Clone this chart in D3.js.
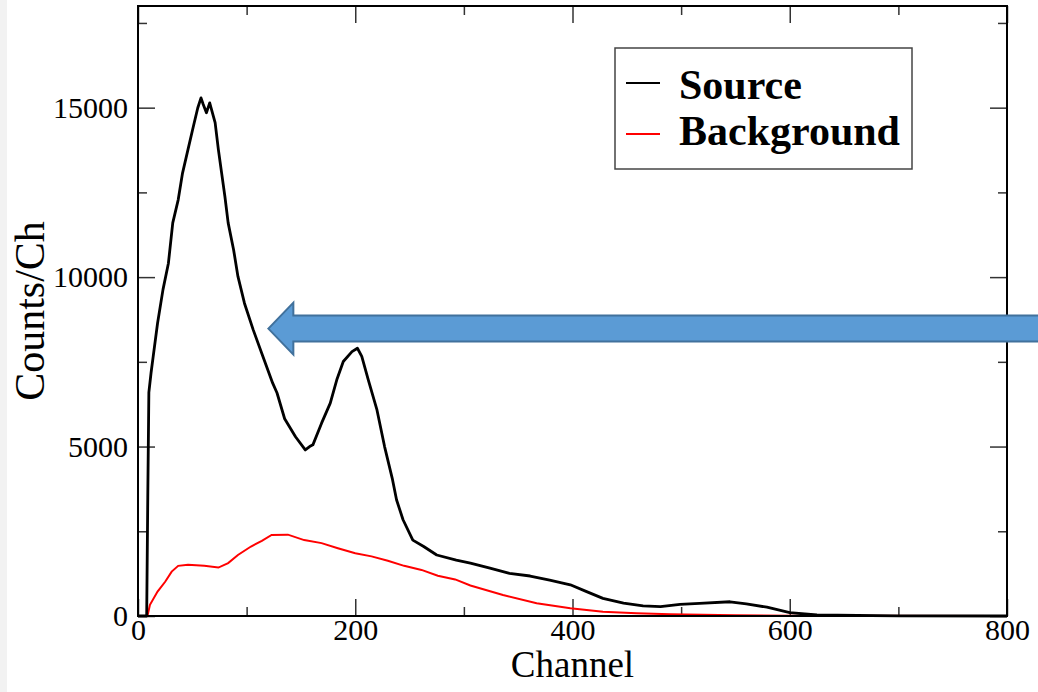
<!DOCTYPE html>
<html>
<head>
<meta charset="utf-8">
<script src="https://cdn.jsdelivr.net/npm/d3@7"></script>
<style>
  body { margin: 0; background: #fff; }
  text { font-family: "Liberation Serif", "Times New Roman", serif; }
</style>
</head>
<body>
<div id="chart"></div>
<script>
var margin = {top: 6, right: 31, bottom: 76, left: 138},
  width = 1038 - margin.left - margin.right,
  height = 692 - margin.top - margin.bottom;

// spectra: [channel, counts]
var sourceData = [[0,0],[8,0],[9,3500],[10,6600],[12,7170],[14,7660],[18,8640],[23,9630],[28,10410],
  [32,11600],[37,12280],[41,13070],[46,13760],[51,14450],[55,14990],[58,15290],[60,15100],[63,14850],
  [66,15140],[71,14560],[74,13760],[77,13070],[80,12380],[83,11600],[88,10810],[92,10020],[98,9230],
  [106,8450],[115,7660],[124,6870],[128,6580],[135,5820],[145,5290],[154,4900],[158,5000],[161,5050],
  [169,5690],[177,6280],[183,6970],[189,7510],[197,7800],[202,7900],[206,7660],[212,6970],[220,6080],
  [227,5000],[234,4070],[238,3430],[244,2840],[253,2240],[263,2050],[275,1800],[293,1650],[306,1560],
  [324,1410],[342,1260],[361,1180],[379,1060],[398,920],[413,720],[428,520],[447,380],[465,300],
  [481,275],[499,345],[517,375],[545,420],[560,360],[579,260],[600,100],[625,30],[700,5],[800,0]];

var backgroundData = [[0,0],[8,0],[9,40],[11,330],[18,720],[25,1010],[31,1310],[37,1480],[46,1510],
  [61,1480],[74,1430],[83,1560],[92,1800],[104,2050],[114,2220],[123,2390],[138,2400],[153,2240],
  [169,2150],[184,2000],[200,1850],[215,1760],[230,1630],[245,1480],[261,1360],[276,1190],[292,1080],
  [306,900],[336,620],[367,375],[398,227],[428,128],[459,80],[490,50],[550,20],[600,10],[800,0]];

var seriesNames = ["Source", "Background"];
var seriesColors = ["#000000", "#ff0000"];

var xMajor = [0, 200, 400, 600, 800];
var xMinor = [100, 300, 500, 700];
var yMajor = [0, 5000, 10000, 15000];
var yMinor = [2500, 7500, 12500, 17500];

// arrow annotation, tip in data units
var arrowTip = [120, 8480];

var svg = d3.select("#chart")
  .append("svg")
    .attr("width", width + margin.left + margin.right)
    .attr("height", height + margin.top + margin.bottom);

// faint slide edge on the left
svg.append("rect").attr("x", 0).attr("y", 0).attr("width", 7).attr("height", 692).style("fill", "#f2f2f2");

var g = svg.append("g")
    .attr("transform", "translate(" + margin.left + "," + margin.top + ")");

var x = d3.scaleLinear().domain([0, 800]).range([0, width]);
var y = d3.scaleLinear().domain([0, 18000]).range([height, 0]);

function styleAxis(sel) {
  sel.select(".domain").remove();
  sel.selectAll("line").style("stroke", "#333").style("stroke-width", 1.5);
}

// bottom
g.append("g").attr("transform", "translate(0," + height + ")")
  .call(d3.axisBottom(x).tickValues(xMajor).tickSize(-17).tickPadding(3).tickFormat(d3.format("d")))
  .call(styleAxis)
  .selectAll("text").style("font-size", "30px").style("fill", "#000").style("font-family", "Liberation Serif");
g.append("g").attr("transform", "translate(0," + height + ")")
  .call(d3.axisBottom(x).tickValues(xMinor).tickSize(-9).tickFormat(""))
  .call(styleAxis);
// top
g.append("g")
  .call(d3.axisTop(x).tickValues(xMajor).tickSize(-17).tickFormat(""))
  .call(styleAxis);
g.append("g")
  .call(d3.axisTop(x).tickValues(xMinor).tickSize(-9).tickFormat(""))
  .call(styleAxis);
// left
g.append("g")
  .call(d3.axisLeft(y).tickValues(yMajor).tickSize(-17).tickPadding(10).tickFormat(d3.format("d")))
  .call(styleAxis)
  .selectAll("text").style("font-size", "30px").style("fill", "#000").style("font-family", "Liberation Serif");
g.append("g")
  .call(d3.axisLeft(y).tickValues(yMinor).tickSize(-9).tickFormat(""))
  .call(styleAxis);
// right
g.append("g").attr("transform", "translate(" + width + ",0)")
  .call(d3.axisRight(y).tickValues(yMajor).tickSize(-17).tickFormat(""))
  .call(styleAxis);
g.append("g").attr("transform", "translate(" + width + ",0)")
  .call(d3.axisRight(y).tickValues(yMinor).tickSize(-9).tickFormat(""))
  .call(styleAxis);

var line = d3.line()
  .x(function(d) { return x(d[0]); })
  .y(function(d) { return y(d[1]); });

g.append("path").datum(backgroundData)
  .attr("d", line)
  .style("fill", "none").style("stroke", seriesColors[1]).style("stroke-width", 2);

g.append("path").datum(sourceData)
  .attr("d", line)
  .style("fill", "none").style("stroke", seriesColors[0]).style("stroke-width", 2.8)
  .style("stroke-linejoin", "round");

// frame
g.append("rect")
  .attr("width", width).attr("height", height)
  .style("fill", "none").style("stroke", "#000").style("stroke-width", 2);

// axis titles
g.append("text")
  .attr("x", width / 2).attr("y", height + 61)
  .attr("text-anchor", "middle")
  .style("font-size", "37px")
  .text("Channel");

svg.append("text")
  .attr("transform", "translate(44," + (margin.top + height / 2) + ") rotate(-90)")
  .attr("text-anchor", "middle")
  .style("font-size", "42px")
  .text("Counts/Ch");

// legend
var legend = g.append("g").attr("transform", "translate(" + (615 - margin.left) + "," + (48 - margin.top) + ")");
legend.append("rect")
  .attr("width", 297).attr("height", 121)
  .style("fill", "#fff").style("stroke", "#444").style("stroke-width", 1.5);
seriesNames.forEach(function(name, i) {
  legend.append("line")
    .attr("x1", 11).attr("x2", 45)
    .attr("y1", 35 + i * 51).attr("y2", 35 + i * 51)
    .style("stroke", seriesColors[i]).style("stroke-width", 2);
  legend.append("text")
    .attr("x", 64).attr("y", 51 + i * 46)
    .style("font-size", "42px").style("font-weight", "bold")
    .text(name);
});

// arrow
var tx = x(arrowTip[0]), ty = y(arrowTip[1]);
var arrowPath = "M" + tx + "," + ty +
  " L" + (tx + 25) + "," + (ty - 26) +
  " L" + (tx + 25) + "," + (ty - 13) +
  " L" + (width + margin.right + 10) + "," + (ty - 13) +
  " L" + (width + margin.right + 10) + "," + (ty + 13) +
  " L" + (tx + 25) + "," + (ty + 13) +
  " L" + (tx + 25) + "," + (ty + 26) + " Z";
g.append("path")
  .attr("d", arrowPath)
  .style("fill", "#5b9bd5").style("stroke", "#41719c").style("stroke-width", 2);
</script>
</body>
</html>
